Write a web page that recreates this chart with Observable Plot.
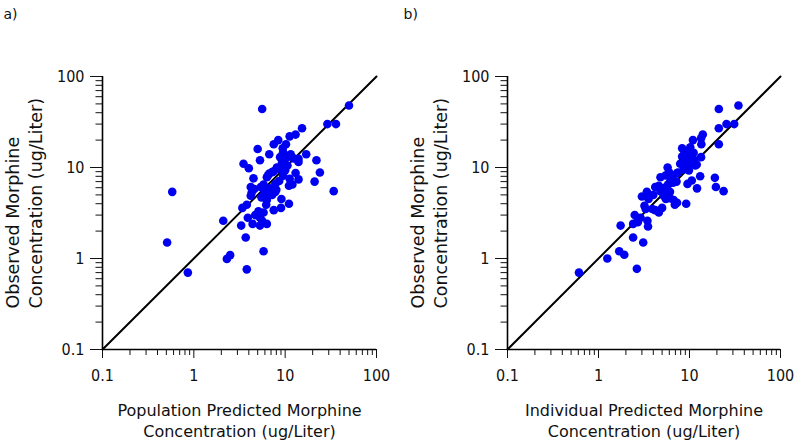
<!DOCTYPE html>
<html>
<head>
<meta charset="utf-8">
<script src="https://cdn.jsdelivr.net/npm/d3@7"></script>
<script src="https://cdn.jsdelivr.net/npm/@observablehq/plot@0.6"></script>
<style>
  html, body { margin: 0; padding: 0; background: #fff; }
  #chart { display: flex; width: 800px; height: 446px; }
</style>
</head>
<body>
<div id="chart"></div>
<script>
// Panel a: population predicted (x) vs observed (y)
const popPred = [5.6,50,29,36,15.3,13,11.2,8.4,7.5,10.2,9.4,5,9.5,6.7,17,10.5,14,5.3,22,14,3.5,9.2,10.6,4,8.1,7.5,13,24,6.7,9.5,6.3,4.5,14,11.2,8.6,21,7.8,11,4.2,5.4,6.8,5.9,34,4.3,7.8,7.2,4.2,5.5,9.1,11,6.2,3.8,3.4,9,7.5,5.8,4.7,5.3,3.9,2.1,4.4,6.3,3.3,5.3,3.7,0.51,5.8,2.5,2.3,3.8,0.86,0.58,8.8,10,12.4,6.0,7.0,8.0,5.8,4.6,12,9.8,8.8,11.5,6.5,7.2,5.1,6.3,5.6];
const popObs  = [44,48,30,30,27,23,22,20,18,18,16.3,16,14.7,14,14,13,12.5,12,12,11.5,11,11.2,10.5,9.8,10,9.1,8.7,8.8,8.6,8.1,7.8,7.6,7.4,7.5,7.1,7,6.6,6.3,6.1,6.1,5.9,5.6,5.5,5.3,5.4,5,4.9,4.7,4.5,4,3.9,3.9,3.6,3.6,3.4,3.2,3,2.8,2.8,2.6,2.4,2.4,2.3,2.3,1.7,1.5,1.2,1.09,0.99,0.76,0.70,5.4,9.6,9.3,12.6,5.0,5.5,5.7,6.5,5.8,6.5,12,13,14,8.2,8.9,3.3,4.4,2.6];

// Panel b: individual predicted (x) vs observed (y)
const indPred = [34.5,21,25.5,31,21,14,13.4,10.9,21,13.5,8.3,10.2,9.5,8.7,11.1,13.4,9.5,8.5,10.3,7.9,11.6,9.0,5.75,9.85,7.3,13.1,19,10.6,5.5,4.8,6.2,9.5,19.5,12.1,23.7,4.2,6.1,5.2,6.7,6.9,9.2,3.4,3.0,3.55,4.2,5.0,4.6,3.3,2.5,2.7,2.4,3.45,3.5,1.75,2.4,3.1,1.69,1.92,1.25,2.64,0.61,8.8,9.2,9.8,9.0,10.5,8.3,9.6,10,11,12,8.6,7.5,6.6,6.0,6.6,7.2,5.8,5.3,4.6,4.8,4.0,5.5,3.9,3.2,2.9,2.7,6.1,7.3];
const indObs  = [48,44,30,30,27,23,21,20,18,18,16.3,16.7,14.7,14,14.5,13,13,12,12,11,10.5,10,10,9.3,8.7,8.0,7.7,7.2,8.2,7.8,7.2,6.6,6.1,5.9,5.5,6.1,5.4,4.9,4.4,3.9,4.0,5.4,4.8,4.5,3.4,3.6,3.2,3.5,3.0,2.6,2.4,2.6,2.25,2.3,1.7,1.5,1.2,1.1,1.0,0.77,0.70,12.5,11.5,11,10.5,11.5,13.2,12.8,14,12.5,10.8,9.5,8.8,7.5,8.8,6.8,7,6.5,6,6.3,5.5,5,4.5,3.5,3.8,2.8,2.5,4.6,4.1];

const majorTicks = [0.1, 1, 10, 100];
const tickLabels = ["0.1", "1", "10", "100"];
const minorTicks = [0.2,0.3,0.4,0.5,0.6,0.7,0.8,0.9,2,3,4,5,6,7,8,9,20,30,40,50,60,70,80,90];
const identity = [0.1, 100];

const TICK_FONT = "DejaVu Sans Condensed, DejaVu Sans, sans-serif";
const TITLE_FONT = "DejaVu Sans, sans-serif";

function panel({xs, ys, letter, xTitle, marginLeft, marginRight}) {
  const pts = xs.map((x, i) => ({x, y: ys[i]}));
  const fmt = d => tickLabels[majorTicks.indexOf(d)];
  return Plot.plot({
    width: 400,
    height: 446,
    marginLeft,
    marginRight,
    marginTop: 76,
    marginBottom: 97,
    style: {fontFamily: TICK_FONT, fontSize: "16px", color: "#111", background: "#fff"},
    x: {type: "log", domain: [0.1, 100]},
    y: {type: "log", domain: [0.1, 100]},
    marks: [
      Plot.axisX({ticks: majorTicks, tickFormat: fmt, tickSize: 9, tickPadding: 11, label: null, fontSize: 16, strokeWidth: 1}),
      Plot.axisX({ticks: minorTicks, tickFormat: () => "", tickSize: 6, label: null, strokeWidth: 1}),
      Plot.axisY({ticks: majorTicks, tickFormat: fmt, tickSize: 12, tickPadding: 6, label: null, fontSize: 16, strokeWidth: 1}),
      Plot.axisY({ticks: minorTicks, tickFormat: () => "", tickSize: 6.5, label: null, strokeWidth: 1}),
      Plot.ruleX([0.1], {stroke: "#000", strokeWidth: 1.6}),
      Plot.ruleY([0.1], {stroke: "#000", strokeWidth: 1.6}),
      Plot.line(identity.map(v => ({x: v, y: v})), {x: "x", y: "y", stroke: "#000", strokeWidth: 2}),
      Plot.dot(pts, {x: "x", y: "y", r: 4.3, fill: "#0000f0", stroke: "none"}),
      Plot.text([letter], {frameAnchor: "top-left", dx: -marginLeft + 3, dy: -62, textAnchor: "start", lineAnchor: "middle", fontSize: 14, fontFamily: TITLE_FONT}),
      Plot.text([xTitle[0]], {frameAnchor: "bottom", dy: 61, lineAnchor: "middle", fontSize: 16, fontFamily: TITLE_FONT}),
      Plot.text([xTitle[1]], {frameAnchor: "bottom", dy: 82, lineAnchor: "middle", fontSize: 16, fontFamily: TITLE_FONT}),
      Plot.text(["Observed Morphine"], {frameAnchor: "bottom-left", dx: 12.5 - marginLeft + (marginLeft - 102), dy: -41, rotate: -90, textAnchor: "start", lineAnchor: "middle", fontSize: 17.5, fontFamily: TITLE_FONT}),
      Plot.text(["Concentration (ug/Liter)"], {frameAnchor: "bottom-left", dx: 35.5 - marginLeft + (marginLeft - 102), dy: -41, rotate: -90, textAnchor: "start", lineAnchor: "middle", fontSize: 17.5, fontFamily: TITLE_FONT})
    ]
  });
}

const chart = document.getElementById("chart");
chart.appendChild(panel({
  xs: popPred, ys: popObs, letter: "a)",
  xTitle: ["Population Predicted Morphine", "Concentration (ug/Liter)"],
  marginLeft: 102, marginRight: 24
}));
chart.appendChild(panel({
  xs: indPred, ys: indObs, letter: "b)",
  xTitle: ["Individual Predicted Morphine", "Concentration (ug/Liter)"],
  marginLeft: 107, marginRight: 20
}));
</script>
</body>
</html>
